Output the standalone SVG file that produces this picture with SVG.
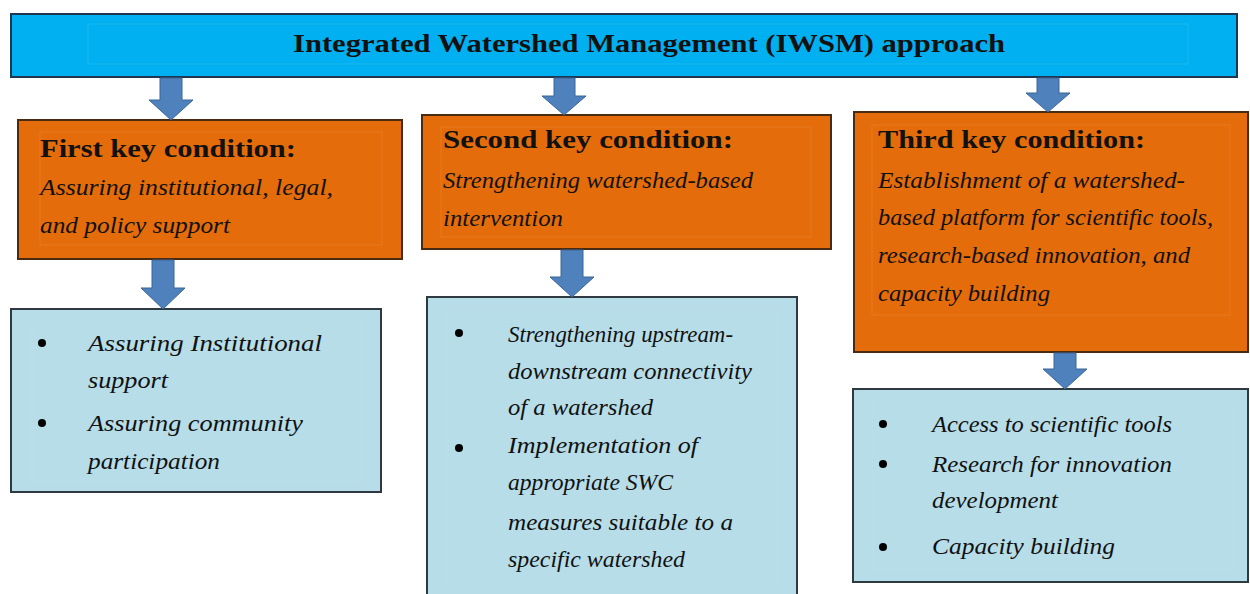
<svg xmlns="http://www.w3.org/2000/svg" width="1250" height="594" viewBox="0 0 1250 594" font-family="Liberation Serif, serif">
<style>
.top{fill:#00b0f0;stroke:#1f3550;stroke-width:2}
.key{fill:#e46c0a;stroke:#4a2a10;stroke-width:2}
.list{fill:#b7dde8;stroke:#2e3a40;stroke-width:2}
.inner{fill:none;stroke:#ffffff;stroke-opacity:0.1;stroke-width:1}
.arrow{fill:#4f81bd;stroke:#3a6698;stroke-width:1}
text{fill:#111}
.title{font-size:25px;font-weight:bold}
.head{font-size:25px;font-weight:bold}
.it{font-size:24px;font-style:italic}
.bul{fill:#000}
</style>
<rect width="1250" height="594" fill="#ffffff"/>
<g id="top">
<rect class="top" x="11" y="14" width="1226" height="63"/>
<rect class="inner" x="88" y="24" width="1100" height="40"/>
<text class="title" font-family="Liberation Serif" x="649" y="52" text-anchor="middle" textLength="712" lengthAdjust="spacingAndGlyphs">Integrated Watershed Management (IWSM) approach</text>
</g>
<g id="key1">
<rect class="key" x="18" y="120" width="384" height="139"/>
<rect class="inner" x="40" y="132" width="342" height="113"/>
<text class="head" x="40" y="157" textLength="256" lengthAdjust="spacingAndGlyphs">First key condition:</text>
<text class="it" x="40" y="195" textLength="293" lengthAdjust="spacingAndGlyphs">Assuring institutional, legal,</text>
<text class="it" x="40" y="233" textLength="190" lengthAdjust="spacingAndGlyphs">and policy support</text>
</g>
<g id="key2">
<rect class="key" x="422" y="115" width="409" height="134"/>
<rect class="inner" x="441" y="127" width="370" height="110"/>
<text class="head" x="443" y="148" textLength="290" lengthAdjust="spacingAndGlyphs">Second key condition:</text>
<text class="it" x="443" y="188" textLength="310" lengthAdjust="spacingAndGlyphs">Strengthening watershed-based</text>
<text class="it" x="443" y="226" textLength="120" lengthAdjust="spacingAndGlyphs">intervention</text>
</g>
<g id="key3">
<rect class="key" x="854" y="112" width="394" height="240"/>
<rect class="inner" x="872" y="125" width="358" height="190"/>
<text class="head" x="878" y="148" textLength="267" lengthAdjust="spacingAndGlyphs">Third key condition:</text>
<text class="it" x="878" y="188" textLength="307" lengthAdjust="spacingAndGlyphs">Establishment of a watershed-</text>
<text class="it" x="878" y="225" textLength="335" lengthAdjust="spacingAndGlyphs">based platform for scientific tools,</text>
<text class="it" x="878" y="263" textLength="312" lengthAdjust="spacingAndGlyphs">research-based innovation, and</text>
<text class="it" x="878" y="301" textLength="172" lengthAdjust="spacingAndGlyphs">capacity building</text>
</g>
<g id="list1">
<rect class="list" x="11" y="309" width="370" height="183"/>
<rect class="inner" x="32" y="323" width="330" height="158"/>
<circle class="bul" cx="42" cy="343" r="4"/>
<text class="it" x="88" y="351" textLength="234" lengthAdjust="spacingAndGlyphs">Assuring Institutional</text>
<text class="it" x="88" y="388" textLength="80" lengthAdjust="spacingAndGlyphs">support</text>
<circle class="bul" cx="42" cy="423" r="4"/>
<text class="it" x="88" y="431" textLength="215" lengthAdjust="spacingAndGlyphs">Assuring community</text>
<text class="it" x="88" y="469" textLength="132" lengthAdjust="spacingAndGlyphs">participation</text>
</g>
<g id="list2">
<rect class="list" x="427" y="297" width="370" height="310"/>
<rect class="inner" x="447" y="310" width="330" height="270"/>
<circle class="bul" cx="459" cy="333" r="4"/>
<text class="it" x="508" y="342" textLength="225" lengthAdjust="spacingAndGlyphs">Strengthening upstream-</text>
<text class="it" x="508" y="379" textLength="244" lengthAdjust="spacingAndGlyphs">downstream connectivity</text>
<text class="it" x="508" y="415" textLength="145" lengthAdjust="spacingAndGlyphs">of a watershed</text>
<circle class="bul" cx="459" cy="448" r="4"/>
<text class="it" x="508" y="453" textLength="190" lengthAdjust="spacingAndGlyphs">Implementation of</text>
<text class="it" x="508" y="490" textLength="165" lengthAdjust="spacingAndGlyphs">appropriate SWC</text>
<text class="it" x="508" y="530" textLength="225" lengthAdjust="spacingAndGlyphs">measures suitable to a</text>
<text class="it" x="508" y="567" textLength="177" lengthAdjust="spacingAndGlyphs">specific watershed</text>
</g>
<g id="list3">
<rect class="list" x="853" y="389" width="395" height="193"/>
<rect class="inner" x="873" y="403" width="360" height="166"/>
<circle class="bul" cx="883" cy="424" r="4"/>
<text class="it" x="932" y="432" textLength="240" lengthAdjust="spacingAndGlyphs">Access to scientific tools</text>
<circle class="bul" cx="883" cy="464" r="4"/>
<text class="it" x="932" y="472" textLength="240" lengthAdjust="spacingAndGlyphs">Research for innovation</text>
<text class="it" x="932" y="508" textLength="126" lengthAdjust="spacingAndGlyphs">development</text>
<circle class="bul" cx="883" cy="547" r="4"/>
<text class="it" x="932" y="554" textLength="183" lengthAdjust="spacingAndGlyphs">Capacity building</text>
</g>
<g id="connectors">
<polygon class="arrow" points="160,78 182,78 182,100 193,100 171,120 149,100 160,100"/>
<polygon class="arrow" points="554,78 575,78 575,96 586,96 564,115 542,96 554,96"/>
<polygon class="arrow" points="1037,78 1059,78 1059,93 1070,93 1048,112 1026,93 1037,93"/>
<polygon class="arrow" points="152,260 174,260 174,288 185,288 163,309 141,288 152,288"/>
<polygon class="arrow" points="561,250 583,250 583,277 594,277 572,297 550,277 561,277"/>
<polygon class="arrow" points="1054,353 1076,353 1076,369 1087,369 1065,389 1043,369 1054,369"/>
</g>
</svg>
